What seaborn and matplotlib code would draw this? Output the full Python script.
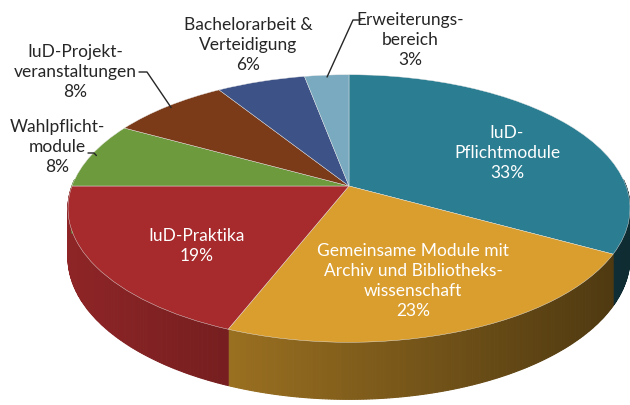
import numpy as np
import matplotlib
matplotlib.use("Agg")
import matplotlib.pyplot as plt
import seaborn as sns
from matplotlib.transforms import Transform
from matplotlib.colors import to_rgb

# Data: module shares of the programme (clockwise from 12 o'clock)
labels = ["IuD-\nPflichtmodule", "Gemeinsame Module mit\nArchiv und Bibliotheks-\nwissenschaft",
          "IuD-Praktika", "Wahlpflicht-\nmodule", "IuD-Projekt-\nveranstaltungen",
          "Bachelorarbeit &\nVerteidigung", "Erweiterungs-\nbereich"]
shares = [33, 23, 19, 8, 8, 6, 3]
colors = ["#2B7D91", "#DA9E2E", "#A72B2D", "#6E9A3E", "#7B3A18", "#3D5287", "#7AAAC0"]

# perspective of the tilted disc (pixel space)
CX, CY = 349, 187
A, B, K = 277, 130, 0.168
DEPTH = 47.5


def project(u, v, drop=0.0):
    w = 1 + K * v
    return CX + A * u / w, CY + (-B * v + drop) / w


class Tilt(Transform):
    input_dims = output_dims = 2
    is_affine = False
    has_inverse = False

    def transform_non_affine(self, pts):
        pts = np.asarray(pts, dtype=float)
        x, y = project(pts[:, 0], pts[:, 1])
        return np.column_stack([x, y])


sns.set_theme(style="white")
plt.rcParams["font.family"] = ["Lato", "DejaVu Sans"]

fig = plt.figure(figsize=(6.3, 4.06), dpi=100)
ax = fig.add_axes([0, 0, 1, 1])

# side wall, drawn first (front half of rim only)
bounds = 90 - np.cumsum([0] + shares) * 3.6
for i, col in enumerate(colors):
    t_hi, t_lo = bounds[i], bounds[i + 1]
    n = max(2, int((t_hi - t_lo) / 0.5) + 1)
    ts = np.radians(np.linspace(t_lo, t_hi, n))
    base = np.array(to_rgb(col))
    for a0, a1 in zip(ts[:-1], ts[1:]):
        if np.sin((a0 + a1) / 2) > 0.05:
            continue
        xt0, yt0 = project(np.cos(a0), np.sin(a0))
        xt1, yt1 = project(np.cos(a1), np.sin(a1))
        xb0, yb0 = project(np.cos(a0), np.sin(a0), DEPTH)
        xb1, yb1 = project(np.cos(a1), np.sin(a1), DEPTH)
        f = 0.85 - 0.5 * (((xt0 + xt1) / 2) - 68) / 560
        c = np.clip(base * f, 0, 1)
        ax.fill([xt0, xt1, xb1, xb0], [yt0, yt1, yb1, yb0], color=c, lw=0.8, ec=c)

# top face
wedges, _ = ax.pie(shares, colors=colors, startangle=90, counterclock=False,
                   wedgeprops=dict(linewidth=0.3, edgecolor="#e6e6e6"))
tilt = Tilt() + ax.transData
for w in wedges:
    w.set_transform(tilt)
    w.set_zorder(3)

ax.set_aspect("auto")
ax.set_xlim(0, 630)
ax.set_ylim(406, 0)
ax.axis("off")

# labels
fs = 12.5
inside = {0: (507, 153), 1: (413, 281), 2: (197, 246)}
for i, (x, y) in inside.items():
    ax.text(x, y, f"{labels[i]}\n{shares[i]}%", color="white", ha="center", va="center",
            fontsize=fs, linespacing=1.3, zorder=5)

outside = {3: (57, 147), 4: (75, 72), 5: (248, 45), 6: (410, 40)}
for i, (x, y) in outside.items():
    ax.text(x, y, f"{labels[i]}\n{shares[i]}%", color="#262626", ha="center", va="center",
            fontsize=fs, linespacing=1.3, zorder=5)

# leader lines from label to slice middle
leaders = {3: [(88, 154), (94, 154)], 4: [(139, 73), (147, 73)], 6: [(361, 21), (353, 21)]}
for i, pts in leaders.items():
    mid = np.radians((bounds[i] + bounds[i + 1]) / 2)
    ex, ey = project(np.cos(mid) * 0.98, np.sin(mid) * 0.98)
    xs = [p[0] for p in pts] + [ex]
    ys = [p[1] for p in pts] + [ey]
    ax.plot(xs, ys, color="#262626", lw=1, zorder=6)

fig.savefig("out.png", dpi=100, facecolor="white")
